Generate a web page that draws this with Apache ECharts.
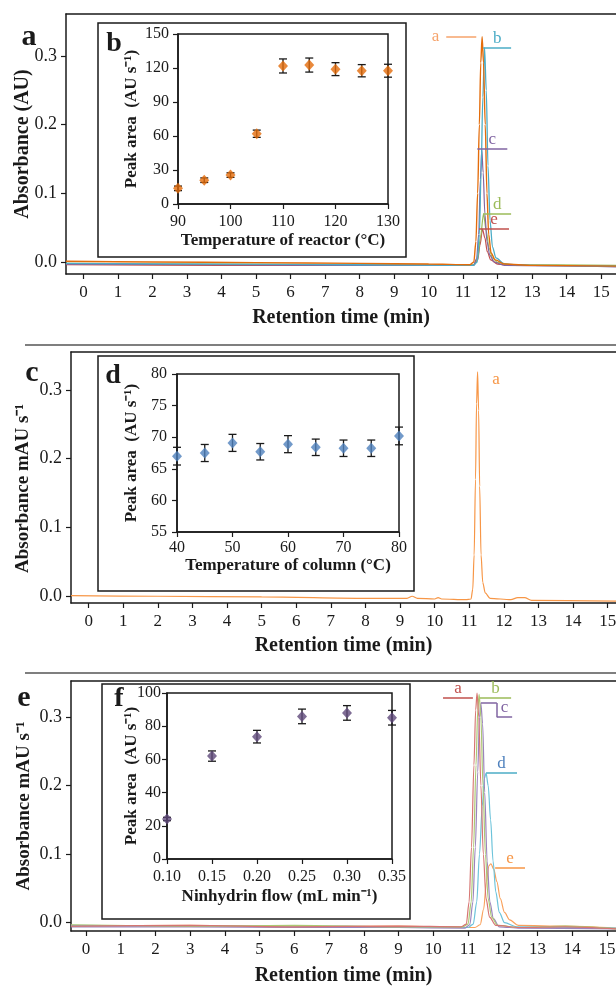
<!DOCTYPE html>
<html>
<head>
<meta charset="utf-8">
<script src="https://cdn.jsdelivr.net/npm/echarts@6.0.0/dist/echarts.min.js"></script>
<style>
  html, body { margin: 0; padding: 0; background: #fff; }
  #chart { width: 616px; height: 986px; }
</style>
</head>
<body>
<div id="chart"></div>
<script>
// tick labels
const timeTicks = [0, 1, 2, 3, 4, 5, 6, 7, 8, 9, 10, 11, 12, 13, 14, 15]
const absTicks = [0, 0.1, 0.2, 0.3]

// panel a: chromatograms at different reactor temperatures [min, AU]
const chromA_a = [[-0.51,0.001],[2,0.0],[5,-0.001],[8,-0.002],[10,-0.003],[11.2,-0.004],[11.31,0.0],[11.37,0.03],[11.42,0.1],[11.47,0.2],[11.51,0.29],[11.55,0.328],[11.59,0.29],[11.64,0.2],[11.69,0.1],[11.74,0.04],[11.81,0.013],[11.93,0.003],[12.2,-0.003],[13,-0.005],[15.43,-0.006]]
const chromA_b = [[-0.51,-0.002],[4,-0.003],[8,-0.004],[11.3,-0.005],[11.41,0.0],[11.47,0.04],[11.52,0.13],[11.57,0.24],[11.62,0.312],[11.67,0.25],[11.72,0.14],[11.78,0.06],[11.85,0.022],[11.95,0.006],[12.2,-0.003],[13,-0.005],[15.43,-0.006]]
const chromA_c = [[-0.51,-0.003],[4,-0.004],[8,-0.005],[11.3,-0.005],[11.39,0.005],[11.45,0.04],[11.5,0.12],[11.54,0.164],[11.58,0.13],[11.63,0.07],[11.69,0.03],[11.77,0.01],[11.9,0.0],[12.2,-0.005],[15.43,-0.007]]
const chromA_d = [[-0.51,-0.002],[4,-0.003],[8,-0.004],[11.3,-0.004],[11.42,0.005],[11.5,0.035],[11.59,0.07],[11.67,0.045],[11.75,0.02],[11.85,0.006],[12.0,-0.001],[12.4,-0.004],[15.43,-0.005]]
const chromA_e = [[-0.51,-0.004],[4,-0.005],[8,-0.005],[11.3,-0.005],[11.42,0.003],[11.49,0.025],[11.56,0.048],[11.63,0.035],[11.7,0.015],[11.8,0.003],[12.0,-0.003],[12.4,-0.005],[15.43,-0.006]]

// panel b: reactor temperature
const tempReactor = [90, 95, 100, 105, 110, 115, 120, 125, 130]
const areaReactor = [13.8, 21, 25.5, 62, 121.8, 122.6, 119, 117.6, 117.6]
const errReactor = [2, 2, 2, 3.2, 6.2, 6.2, 5.7, 5.4, 5.7]

// panel c: chromatogram
const chromC = [[-0.51,0.001],[2,0.0],[5,-0.001],[8,-0.003],[9.2,-0.003],[9.35,0.0],[9.5,-0.003],[10,-0.004],[10.1,-0.002],[10.2,-0.004],[10.9,-0.005],[11.05,-0.004],[11.1,0.01],[11.14,0.06],[11.18,0.17],[11.21,0.28],[11.24,0.326],[11.27,0.27],[11.3,0.16],[11.34,0.06],[11.39,0.02],[11.46,0.005],[11.6,-0.003],[12.2,-0.005],[12.4,-0.002],[12.6,-0.002],[12.8,-0.006],[15.24,-0.007]]

// panel d: column temperature
const tempColumn = [40, 45, 50, 55, 60, 65, 70, 75, 80]
const areaColumn = [67, 67.5, 69.1, 67.7, 68.9, 68.4, 68.25, 68.25, 70.2]
const errColumn = [1.4, 1.35, 1.35, 1.3, 1.35, 1.3, 1.3, 1.3, 1.4]

// panel e: chromatograms at different ninhydrin flows
const chromE_a = [[-0.43,-0.005],[3,-0.004],[6,-0.006],[9,-0.005],[10.8,-0.006],[10.95,-0.002],[11.03,0.03],[11.1,0.11],[11.17,0.23],[11.22,0.31],[11.26,0.335],[11.31,0.3],[11.37,0.2],[11.44,0.1],[11.52,0.035],[11.62,0.008],[11.8,-0.004],[12.5,-0.007],[13.8,-0.006],[15.26,-0.009]]
const chromE_b = [[-0.43,-0.003],[3,-0.005],[6,-0.004],[9,-0.006],[10.85,-0.006],[11.0,-0.002],[11.09,0.03],[11.16,0.11],[11.23,0.23],[11.28,0.31],[11.32,0.333],[11.37,0.3],[11.43,0.2],[11.5,0.1],[11.58,0.035],[11.68,0.008],[11.85,-0.004],[12.5,-0.007],[13.8,-0.005],[15.26,-0.009]]
const chromE_c = [[-0.43,-0.006],[3,-0.006],[6,-0.007],[9,-0.007],[10.9,-0.008],[11.05,-0.003],[11.14,0.03],[11.21,0.11],[11.28,0.22],[11.33,0.3],[11.37,0.32],[11.42,0.29],[11.48,0.19],[11.55,0.09],[11.63,0.03],[11.73,0.006],[11.9,-0.006],[12.5,-0.008],[15.26,-0.009]]
const chromE_d = [[-0.43,-0.004],[3,-0.005],[6,-0.005],[9,-0.006],[11.0,-0.007],[11.15,-0.002],[11.25,0.03],[11.33,0.1],[11.41,0.17],[11.47,0.21],[11.52,0.218],[11.58,0.2],[11.65,0.15],[11.72,0.09],[11.8,0.045],[11.9,0.015],[12.05,0.0],[12.4,-0.006],[15.26,-0.008]]
const chromE_e = [[-0.43,-0.005],[3,-0.004],[6,-0.006],[9,-0.005],[11.2,-0.007],[11.35,-0.003],[11.45,0.02],[11.53,0.06],[11.6,0.083],[11.66,0.086],[11.74,0.078],[11.83,0.06],[11.93,0.035],[12.05,0.015],[12.2,0.004],[12.45,-0.004],[13.8,-0.005],[15.26,-0.008]]

// panel f: ninhydrin flow
const flowNinhydrin = [0.10, 0.15, 0.20, 0.25, 0.30, 0.35]
const areaNinhydrin = [24.1, 62, 73.7, 85.9, 88, 85.1]
const errNinhydrin = [1, 3.1, 3.8, 4.4, 4.4, 4.4]

const FONT = 'Liberation Serif'
const INK = '#1a1a1a'

const chart = echarts.init(document.getElementById('chart'))

const grids = []
const xAxes = []
const yAxes = []
const series = []

const axisLine = {show: true, onZero: false, lineStyle: {color: INK, width: 1.5}}

function mainPanel(box, xr, yr, yName, yFont, gaps, yPad) {
  const g = grids.length
  grids.push({left: box[0], top: box[1], width: 616 - box[0], height: box[2], outerBoundsMode: 'none'})
  const xi = xAxes.length
  xAxes.push({
    type: 'value', gridIndex: g, min: xr[0], max: xr[1], position: 'bottom',
    axisLine,
    axisTick: {show: true, length: 5, customValues: timeTicks, lineStyle: {color: INK, width: 1.2}},
    axisLabel: {customValues: timeTicks, margin: 10, fontFamily: FONT, fontSize: 17, color: INK},
    splitLine: {show: false},
    name: 'Retention time (min)', nameLocation: 'middle', nameGap: gaps[0], nameMoveOverlap: false,
    nameTextStyle: {fontFamily: FONT, fontSize: 20, fontWeight: 'bold', color: INK}
  })
  xAxes.push({
    type: 'value', gridIndex: g, min: xr[0], max: xr[1], position: 'top',
    axisLine, axisTick: {show: false}, axisLabel: {show: false}, splitLine: {show: false}
  })
  const yi = yAxes.length
  yAxes.push({
    type: 'value', gridIndex: g, min: yr[0], max: yr[1],
    axisLine,
    axisTick: {show: true, length: 5, customValues: absTicks, lineStyle: {color: INK, width: 1.2}},
    axisLabel: {customValues: absTicks, formatter: v => v.toFixed(1), margin: 9, fontFamily: FONT, fontSize: 18, color: INK},
    splitLine: {show: false},
    name: yName, nameLocation: 'middle', nameGap: gaps[1], nameMoveOverlap: false,
    nameTextStyle: {fontFamily: FONT, fontSize: yFont, fontWeight: 'bold', color: INK, padding: yPad || 0}
  })
  return [xi, yi]
}

function insetPanel(box, xr, xInt, xFmt, yr, yInt, xName, gaps, margins) {
  const g = grids.length
  grids.push({left: box[0], top: box[1], width: box[2], height: box[3], show: true,
    borderColor: INK, borderWidth: 1.5, backgroundColor: 'transparent', outerBoundsMode: 'none'})
  const xi = xAxes.length
  xAxes.push({
    type: 'value', gridIndex: g, min: xr[0], max: xr[1], interval: xInt,
    axisLine, axisTick: {show: true, length: 5, lineStyle: {color: INK, width: 1.2}},
    axisLabel: {margin: margins[0], fontFamily: FONT, fontSize: 16, color: INK, formatter: xFmt},
    splitLine: {show: false},
    name: xName, nameLocation: 'middle', nameGap: gaps[0], nameMoveOverlap: false,
    nameTextStyle: {fontFamily: FONT, fontSize: 17, fontWeight: 'bold', color: INK}
  })
  const yi = yAxes.length
  yAxes.push({
    type: 'value', gridIndex: g, min: yr[0], max: yr[1], interval: yInt,
    axisLine, axisTick: {show: true, length: 5, lineStyle: {color: INK, width: 1.2}},
    axisLabel: {margin: margins[1], fontFamily: FONT, fontSize: 16, color: INK},
    splitLine: {show: false},
    name: 'Peak area  (AU s\u207B\u00B9)', nameLocation: 'middle', nameGap: gaps[1], nameMoveOverlap: false,
    nameTextStyle: {fontFamily: FONT, fontSize: 17, fontWeight: 'bold', color: INK}
  })
  return [xi, yi]
}

function tag(text, x1, x2, y, color, pos, textColor) {
  return [
    {coord: [x1, y], lineStyle: {color, width: 1.5, type: 'solid'},
      label: {show: !!text, formatter: text, position: pos, distance: pos === 'start' ? 7 : 1,
        color: textColor || color, fontFamily: FONT, fontSize: 17}},
    {coord: [x2, y]}
  ]
}

function chrom(ax, data, color, width, tags) {
  const s = {
    type: 'line', xAxisIndex: ax[0], yAxisIndex: ax[1], data,
    showSymbol: false, smooth: 0.3, smoothMonotone: 'x', silent: true, z: 3,
    lineStyle: {color, width}, itemStyle: {color}
  }
  if (tags) {
    s.markLine = {silent: true, symbol: ['none', 'none'], animation: false, data: tags}
  }
  series.push(s)
  return s
}

function points(ax, xs, ys, es, color) {
  series.push({
    type: 'custom', xAxisIndex: ax[0], yAxisIndex: ax[1], z: 4,
    data: xs.map((x, i) => [x, ys[i] - es[i], ys[i] + es[i]]),
    renderItem: (params, api) => {
      const lo = api.coord([api.value(0), api.value(1)])
      const hi = api.coord([api.value(0), api.value(2)])
      const w = 4
      const st = {stroke: INK, lineWidth: 1.3}
      return {type: 'group', children: [
        {type: 'line', shape: {x1: lo[0], y1: lo[1], x2: hi[0], y2: hi[1]}, style: st},
        {type: 'line', shape: {x1: lo[0] - w, y1: lo[1], x2: lo[0] + w, y2: lo[1]}, style: st},
        {type: 'line', shape: {x1: hi[0] - w, y1: hi[1], x2: hi[0] + w, y2: hi[1]}, style: st}
      ]}
    }
  })
  series.push({
    type: 'scatter', xAxisIndex: ax[0], yAxisIndex: ax[1], z: 5, clip: false,
    data: xs.map((x, i) => [x, ys[i]]),
    symbol: 'diamond', symbolSize: [10, 11], itemStyle: {color}
  })
}

// ---- panel a / b
const axA = mainPanel([66, 14, 260], [-0.51, 15.43], [-0.0175, 0.361], 'Absorbance (AU)', 20, [34, 33])
chrom(axA, chromA_e, '#c0504d', 1.2, [tag('e', 11.46, 12.33, 0.048, '#c0504d', 'insideMiddleTop')])
chrom(axA, chromA_d, '#9bbb59', 1.2, [tag('d', 11.58, 12.39, 0.070, '#9bbb59', 'insideMiddleTop')])
chrom(axA, chromA_c, '#8064a2', 1.2, [tag('c', 11.41, 12.28, 0.1646, '#8064a2', 'insideMiddleTop')])
chrom(axA, chromA_b, '#4bacc6', 1.3, [tag('b', 11.58, 12.39, 0.312, '#4bacc6', 'insideMiddleTop')])
chrom(axA, chromA_a, '#e46c0a', 1.4, [tag('a', 10.51, 11.38, 0.328, '#f6a36b', 'start')])

const axB = insetPanel([178, 34, 210, 170], [90, 130], 10, null, [0, 150], 30,
  'Temperature of reactor (\u00B0C)', [28, 38], [10, 9])
points(axB, tempReactor, areaReactor, errReactor, '#e46c0a')

// ---- panel c / d
const axC = mainPanel([71, 352, 251], [-0.51, 15.24], [-0.0098, 0.355], 'Absorbance mAU s\u207B\u00B9', 19, [33, 38], [0, 22, 0, 0])
const seriesC = chrom(axC, chromC, '#f79646', 1.2)
seriesC.markPoint = {
  silent: true, animation: false, symbol: 'circle', symbolSize: 1, itemStyle: {color: 'rgba(0,0,0,0)'},
  data: [{coord: [11.77, 0.3146], label: {show: true, position: 'inside', formatter: 'a', color: '#f79646', fontFamily: FONT, fontSize: 17}}]
}

const axD = insetPanel([177, 374, 222, 158], [40, 80], 10, null, [55, 80], 5,
  'Temperature of column (\u00B0C)', [25, 37], [8, 10])
points(axD, tempColumn, areaColumn, errColumn, '#4f81bd')

// ---- panel e / f
const axE = mainPanel([71, 681, 250], [-0.43, 15.26], [-0.0121, 0.3525], 'Absorbance mAU s\u207B\u00B9', 19, [35, 37])
chrom(axE, chromE_e, '#f9a15c', 1.2, [tag('e', 11.78, 12.64, 0.0798, '#f79646', 'insideMiddleTop')])
chrom(axE, chromE_d, '#6cc3da', 1.2, [tag('d', 11.52, 12.41, 0.2183, '#4bacc6', 'insideMiddleTop', '#4f81bd')])
chrom(axE, chromE_c, '#9b83bd', 1.2, [
  tag('', 11.37, 11.83, 0.3204, '#8064a2'),
  [{coord: [11.83, 0.3204], lineStyle: {color: '#8064a2', width: 1.5, type: 'solid'}, label: {show: false}}, {coord: [11.83, 0.2998]}],
  tag('c', 11.83, 12.27, 0.2998, '#8064a2', 'insideMiddleTop')
])
chrom(axE, chromE_b, '#acc873', 1.2, [tag('b', 11.34, 12.24, 0.3277, '#9bbb59', 'insideMiddleTop')])
chrom(axE, chromE_a, '#d77572', 1.2, [tag('a', 10.28, 11.14, 0.3277, '#c0504d', 'insideMiddleTop')])

const axF = insetPanel([167, 693, 225, 166], [0.1, 0.35], 0.05, v => v.toFixed(2), [0, 100], 20,
  'Ninhydrin flow (mL min\u207B\u00B9)', [29, 27], [10, 6])
points(axF, flowNinhydrin, areaNinhydrin, errNinhydrin, '#5f497a')

// frames, separators and panel letters
const frame = (x, y, w, h) => ({type: 'rect', shape: {x, y, width: w, height: h}, style: {fill: 'none', stroke: INK, lineWidth: 1.5}, z: 1, silent: true})
const sep = y => ({type: 'line', shape: {x1: 25, y1: y, x2: 616, y2: y}, style: {stroke: '#555', lineWidth: 1.5}, silent: true})
const letter = (t, x, y, size) => ({type: 'text', x, y, style: {text: t, fontFamily: FONT, fontSize: size, fontWeight: 'bold', fill: INK, align: 'center', verticalAlign: 'middle'}, z: 10, silent: true})

chart.setOption({
  animation: false,
  backgroundColor: '#fff',
  grid: grids,
  xAxis: xAxes,
  yAxis: yAxes,
  series,
  graphic: [
    frame(98, 23, 308, 234),
    frame(98, 356, 316, 235),
    frame(102, 684, 308, 235),
    sep(345),
    sep(673),
    letter('a', 29, 37, 30),
    letter('b', 114, 44, 28),
    letter('c', 32, 373, 30),
    letter('d', 113, 376, 28),
    letter('e', 24, 698, 30),
    letter('f', 119, 699, 28)
  ]
})
</script>
</body>
</html>
